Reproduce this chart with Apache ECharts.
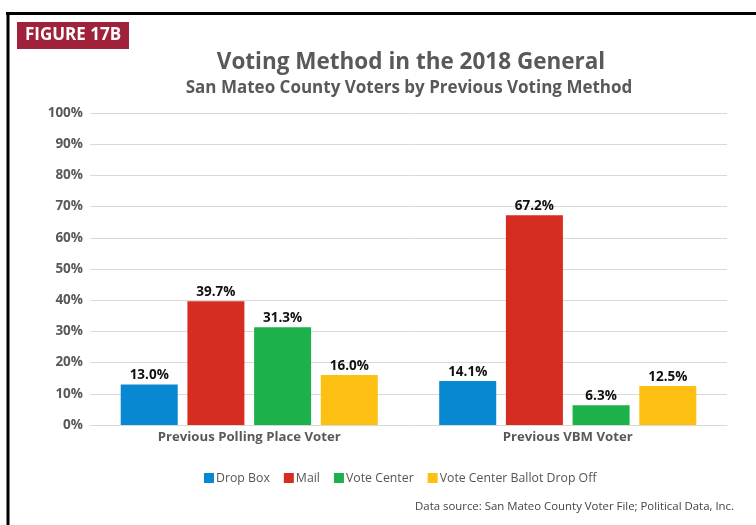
<!DOCTYPE html>
<html>
<head>
<meta charset="utf-8">
<script src="https://cdn.jsdelivr.net/npm/echarts@6/dist/echarts.min.js"></script>
<style>html,body{margin:0;padding:0;background:#fff}#c{width:756px;height:525px}</style>
</head>
<body>
<div id="c"></div>
<script>
const categories = ['Previous Polling Place Voter', 'Previous VBM Voter'];
const seriesNames = ['Drop Box', 'Mail', 'Vote Center', 'Vote Center Ballot Drop Off'];
const dropBox = [13.0, 14.1];
const mail = [39.7, 67.2];
const voteCenter = [31.3, 6.3];
const ballotDropOff = [16.0, 12.5];
const yTicks = [0, 10, 20, 30, 40, 50, 60, 70, 80, 90, 100];

const colors = ['#0788d0', '#d62d20', '#1db14b', '#fdc013'];
const values = [dropBox, mail, voteCenter, ballotDropOff];
const FONT = '"Open Sans", "Noto Sans", sans-serif';

const chart = echarts.init(document.getElementById('c'), null, {renderer: 'canvas'});
chart.setOption({
  animation: false,
  backgroundColor: '#fff',
  textStyle: {fontFamily: FONT},
  grid: {left: 90, right: 29, top: 113, bottom: 100, containLabel: false},
  legend: {
    data: seriesNames,
    left: 199, top: 467,
    icon: 'rect', itemWidth: 10, itemHeight: 10, itemGap: 14,
    textStyle: {color: '#555', fontSize: 12.3, fontFamily: FONT, padding: [0, 0, 0, -3]}
  },
  xAxis: {
    type: 'category', data: categories,
    axisLine: {show: true, lineStyle: {color: '#d9d9d9', width: 1}},
    axisTick: {show: false},
    axisLabel: {color: '#595959', fontWeight: 'bold', fontSize: 13.2, margin: 6, fontFamily: FONT}
  },
  yAxis: {
    type: 'value', min: 0, max: 100, interval: 10,
    axisLine: {show: false}, axisTick: {show: false},
    splitLine: {lineStyle: {color: '#d9d9d9', width: 1}},
    axisLabel: {color: '#595959', fontWeight: 'bold', fontSize: 13.5, margin: 7, fontFamily: FONT,
      formatter: v => yTicks.includes(v) ? v + '%' : ''}
  },
  series: seriesNames.map((n, i) => ({
    name: n, type: 'bar', data: values[i],
    barWidth: 57, barGap: '17%',
    itemStyle: {color: colors[i]},
    label: {show: true, position: 'top', distance: 2, color: '#111', fontWeight: 'bold', fontSize: 13.5,
      fontFamily: FONT, formatter: p => p.value.toFixed(1) + '%'}
  })),
  graphic: [
    {type: 'line', shape: {x1: 6, y1: 13.5, x2: 756, y2: 13.5}, style: {stroke: '#000', lineWidth: 3}},
    {type: 'line', shape: {x1: 8, y1: 12, x2: 8, y2: 525}, style: {stroke: '#000', lineWidth: 3}},
    {type: 'rect', shape: {x: 17, y: 22, width: 112, height: 27}, style: {fill: '#a0213a'}},
    {type: 'text', x: 73, y: 35.5, style: {text: 'FIGURE 17B', fill: '#fff', font: 'bold 17px ' + FONT, textAlign: 'center', textVerticalAlign: 'middle'}},
    {type: 'text', x: 411, y: 63, style: {text: 'Voting Method in the 2018 General', fill: '#595959', font: 'bold 22.5px ' + FONT, textAlign: 'center', textVerticalAlign: 'middle'}},
    {type: 'text', x: 409, y: 88, style: {text: 'San Mateo County Voters by Previous Voting Method', fill: '#595959', font: 'bold 17px ' + FONT, textAlign: 'center', textVerticalAlign: 'middle'}},
    {type: 'text', x: 734, y: 507, style: {text: 'Data source: San Mateo County Voter File; Political Data, Inc.', fill: '#444', font: '11.4px ' + FONT, textAlign: 'right', textVerticalAlign: 'middle'}}
  ]
});
</script>
</body>
</html>
